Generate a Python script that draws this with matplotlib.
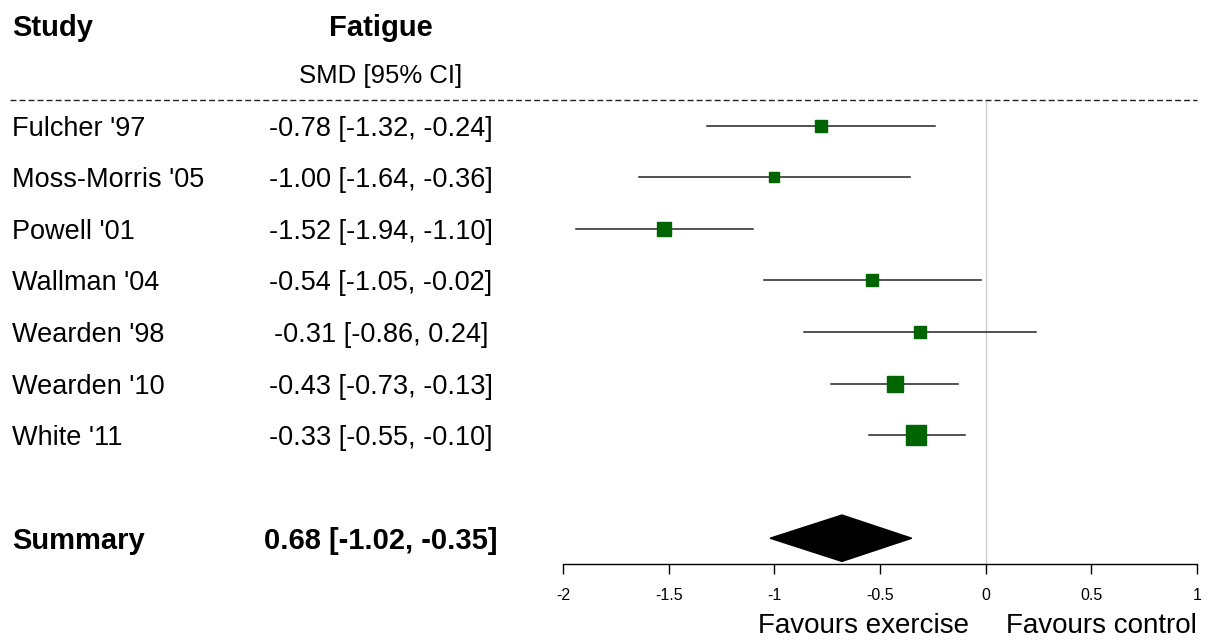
import matplotlib.pyplot as plt
import matplotlib.transforms as mtransforms
import numpy as np

plt.rcParams['font.family'] = ['Liberation Sans', 'DejaVu Sans']

# Data
studies = ["Fulcher '97", "Moss-Morris '05", "Powell '01", "Wallman '04",
           "Wearden '98", "Wearden '10", "White '11"]
smd = [-0.78, -1.00, -1.52, -0.54, -0.31, -0.43, -0.33]
ci_low = [-1.32, -1.64, -1.94, -1.05, -0.86, -0.73, -0.55]
ci_high = [-0.24, -0.36, -1.10, -0.02, 0.24, -0.13, -0.10]
ci_text = ["-0.78 [-1.32, -0.24]", "-1.00 [-1.64, -0.36]", "-1.52 [-1.94, -1.10]",
           "-0.54 [-1.05, -0.02]", "-0.31 [-0.86, 0.24]", "-0.43 [-0.73, -0.13]",
           "-0.33 [-0.55, -0.10]"]

summary_est = -0.68
summary_low = -1.02
summary_high = -0.35
summary_text = "0.68 [-1.02, -0.35]"

xticks = [-2, -1.5, -1, -0.5, 0, 0.5, 1]
xtick_labels = ["-2", "-1.5", "-1", "-0.5", "0", "0.5", "1"]

# Box size from inverse-variance weight
se = (np.array(ci_high) - np.array(ci_low)) / 3.92
w = 1 / se ** 2
box_px = 5.6 + 1.65 * np.sqrt(w)
box_pt = box_px * 0.72

W, H = 1213, 641
fig = plt.figure(figsize=(W / 100, H / 100), dpi=100)
ax = fig.add_axes([563 / W, (H - 564) / H, 634 / W, 464 / H])
ax.set_xlim(-2, 1)
ax.set_ylim(8.5, -0.5)

rows = np.arange(len(studies))
summary_row = 8

ax.axvline(0, color='#cccccc', lw=1, zorder=0)
for i in rows:
    ax.plot([ci_low[i], ci_high[i]], [i, i], color='#222222', lw=1.1, zorder=2)
    ax.plot(smd[i], i, marker='s', ms=box_pt[i], color='#006400',
            mec='#006400', zorder=3)

ax.fill([summary_low, summary_est, summary_high, summary_est],
        [summary_row, summary_row - 0.45, summary_row, summary_row + 0.45],
        color='black', zorder=3)

for s in ['top', 'right', 'left']:
    ax.spines[s].set_visible(False)
ax.spines['bottom'].set_linewidth(1)
ax.set_yticks([])
ax.set_xticks(xticks)
ax.set_xticklabels(xtick_labels, fontsize=11.5)
ax.tick_params(axis='x', length=7.5, width=1, pad=10)

# Left-hand columns
trans = mtransforms.blended_transform_factory(fig.transFigure, ax.transData)
col_study = 12 / W
col_est = 381 / W

ax.text(col_study, -1.96, "Study", transform=trans, fontsize=21,
        fontweight='bold', va='center_baseline', ha='left', clip_on=False)
ax.text(col_est, -1.96, "Fatigue", transform=trans, fontsize=21,
        fontweight='bold', va='center_baseline', ha='center', clip_on=False)
ax.text(col_est, -1.01, "SMD [95% CI]", transform=trans, fontsize=18.5,
        va='center_baseline', ha='center', clip_on=False)

ax.plot([10 / W, 1197 / W], [-0.5, -0.5], transform=trans, color='#222222',
        lw=1, ls=(0, (4.3, 2.2)), clip_on=False)

for i in rows:
    ax.text(col_study, i, studies[i], transform=trans, fontsize=19.5,
            va='center_baseline', ha='left', clip_on=False)
    ax.text(col_est, i, ci_text[i], transform=trans, fontsize=19.5,
            va='center_baseline', ha='center', clip_on=False)

ax.text(col_study, summary_row, "Summary", transform=trans, fontsize=21,
        fontweight='bold', va='center_baseline', ha='left', clip_on=False)
ax.text(col_est, summary_row, summary_text, transform=trans, fontsize=21,
        fontweight='bold', va='center_baseline', ha='center', clip_on=False)

ax.text(-0.08, 9.65, "Favours exercise", fontsize=20, ha='right',
        va='center_baseline', clip_on=False)
ax.text(1.0, 9.65, "Favours control", fontsize=20, ha='right',
        va='center_baseline', clip_on=False)

fig.savefig("out.png", dpi=100, facecolor='white')
